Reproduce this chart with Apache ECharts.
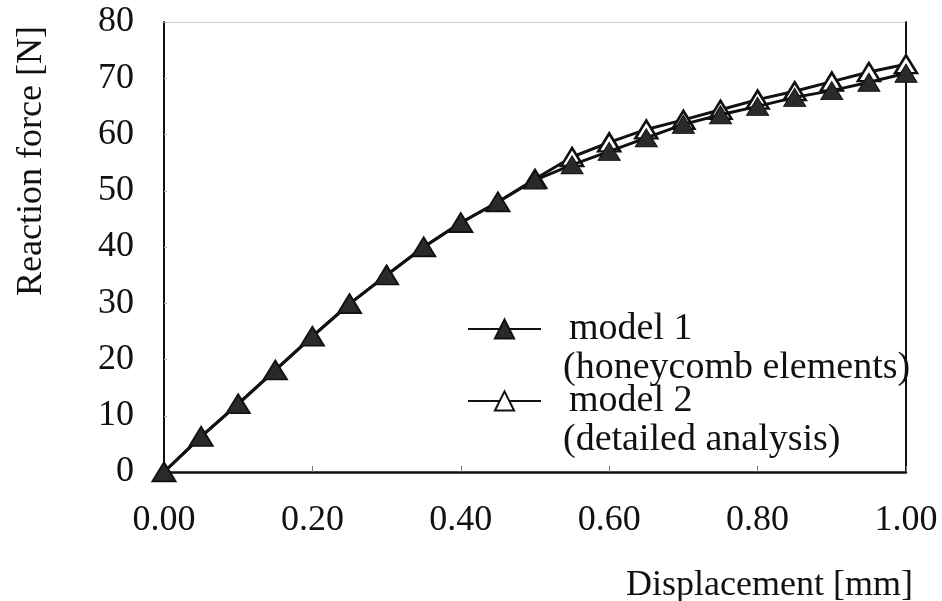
<!DOCTYPE html>
<html>
<head>
<meta charset="utf-8">
<title>Reaction force vs displacement</title>
<script src="https://cdn.jsdelivr.net/npm/echarts@6/dist/echarts.min.js"></script>
<style>
  html, body { margin: 0; padding: 0; background: #ffffff; }
  #chart { width: 942px; height: 601px; }
</style>
</head>
<body>
<div id="chart"></div>
<script>
// Displacement steps [mm]
const displacement = [0.00, 0.05, 0.10, 0.15, 0.20, 0.25, 0.30, 0.35, 0.40, 0.45, 0.50,
                      0.55, 0.60, 0.65, 0.70, 0.75, 0.80, 0.85, 0.90, 0.95, 1.00];
// Reaction force [N], model 1 (honeycomb elements)
const model1 = [0, 6.3, 12.1, 18.1, 24.1, 29.9, 35.0, 40.0, 44.3, 48.0, 51.9,
                54.6, 57.0, 59.4, 61.8, 63.5, 65.0, 66.6, 67.8, 69.3, 70.9];
// Reaction force [N], model 2 (detailed analysis)
const model2 = [0, 6.3, 12.1, 18.1, 24.1, 29.9, 35.0, 40.0, 44.3, 48.0, 52.1,
                56.0, 58.6, 60.9, 62.6, 64.4, 66.2, 67.7, 69.4, 71.1, 72.5];
// Axis tick labels
const xTicks = [0.0, 0.2, 0.4, 0.6, 0.8, 1.0];
const xTickLabels = ['0.00', '0.20', '0.40', '0.60', '0.80', '1.00'];
const yTickLabels = ['0', '10', '20', '30', '40', '50', '60', '70', '80'];
// Series names and legend sub-captions
const seriesNames = ['model 1', 'model 2'];
const seriesNotes = ['(honeycomb elements)', '(detailed analysis)'];

const FONT = '"Liberation Serif", "Times New Roman", serif';
const INK = '#111111';

const pairs = (ys) => displacement.map((x, i) => [x, ys[i]]);

const chart = echarts.init(document.getElementById('chart'), null, { renderer: 'canvas' });

chart.setOption({
  animation: false,
  backgroundColor: '#ffffff',
  grid: { left: 164, right: 36, top: 22, bottom: 129 },
  xAxis: [
    {
      type: 'value', min: 0, max: 1, interval: 0.2, position: 'bottom',
      axisLine: { show: true, onZero: false, lineStyle: { color: INK, width: 2.5 } },
      axisTick: { show: true, inside: true, length: 6, lineStyle: { color: '#777', width: 1 } },
      splitLine: { show: false },
      axisLabel: {
        margin: 31, color: INK, fontFamily: FONT, fontSize: 36,
        formatter: (v) => {
          const i = xTicks.findIndex((t) => Math.abs(t - v) < 1e-9);
          return i >= 0 ? xTickLabels[i] : '';
        }
      }
    },
    {
      type: 'value', min: 0, max: 1, position: 'top',
      axisLine: { show: true, onZero: false, lineStyle: { color: '#c4c4c4', width: 1, type: 'dotted' } },
      axisTick: { show: false }, axisLabel: { show: false }, splitLine: { show: false }
    }
  ],
  yAxis: [
    {
      type: 'value', min: 0, max: 80, interval: 10, position: 'left',
      axisLine: { show: true, onZero: false, lineStyle: { color: INK, width: 2 } },
      axisTick: { show: true, inside: true, length: 3, lineStyle: { color: '#aaa', width: 1 } },
      splitLine: { show: false },
      axisLabel: {
        margin: 30, color: INK, fontFamily: FONT, fontSize: 36,
        formatter: (v) => yTickLabels[Math.round(v / 10)] ?? ''
      }
    },
    {
      type: 'value', min: 0, max: 80, position: 'right',
      axisLine: { show: true, onZero: false, lineStyle: { color: INK, width: 2 } },
      axisTick: { show: false }, axisLabel: { show: false }, splitLine: { show: false }
    }
  ],
  legend: {
    orient: 'vertical',
    left: 462, top: 303,
    itemWidth: 73, itemHeight: 24, itemGap: 30,
    data: seriesNames,
    textStyle: { color: INK, fontFamily: FONT, fontSize: 38, lineHeight: 42, padding: [0, 0, 0, 23] },
    selectedMode: false
  },
  graphic: [
    {
      type: 'text', left: 563, top: 349, silent: true,
      style: { text: seriesNotes[0], fill: INK, font: '38px ' + FONT }
    },
    {
      type: 'text', left: 563, top: 421, silent: true,
      style: { text: seriesNotes[1], fill: INK, font: '38px ' + FONT }
    },
    {
      type: 'text', x: 32, y: 161, rotation: Math.PI / 2, silent: true,
      style: { text: 'Reaction force [N]', fill: INK, font: '36px ' + FONT,
               align: 'center', verticalAlign: 'middle' }
    },
    {
      type: 'text', x: 913, y: 586, silent: true,
      style: { text: 'Displacement [mm]', fill: INK, font: '36px ' + FONT,
               align: 'right', verticalAlign: 'middle' }
    }
  ],
  series: [
    {
      name: seriesNames[0], type: 'line', z: 4,
      data: pairs(model1),
      symbol: 'triangle', symbolSize: [22, 18], showAllSymbol: true,
      lineStyle: { color: INK, width: 3 },
      itemStyle: { color: '#2a2a2a', borderColor: INK, borderWidth: 1 }
    },
    {
      name: seriesNames[1], type: 'line', z: 3,
      data: pairs(model2),
      symbol: 'triangle', symbolSize: [22, 18], showAllSymbol: true,
      lineStyle: { color: INK, width: 3 },
      itemStyle: { color: '#ffffff', borderColor: INK, borderWidth: 2.5 }
    }
  ]
});
</script>
</body>
</html>
